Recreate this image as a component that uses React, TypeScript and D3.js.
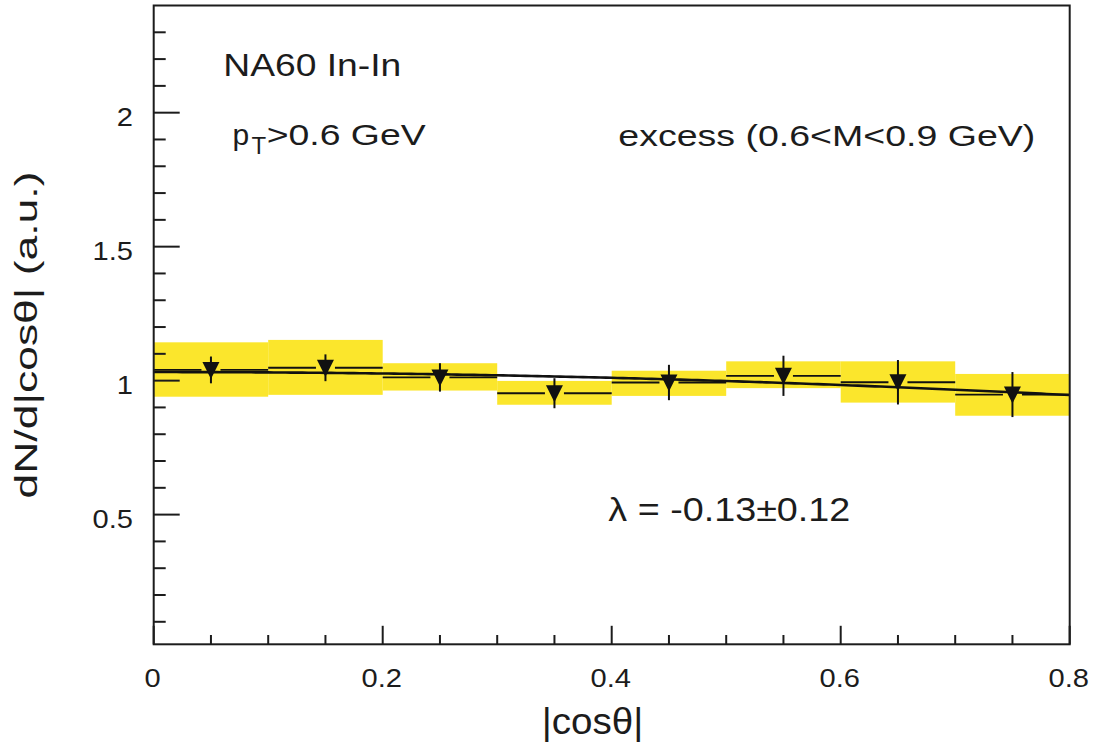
import React from 'react';
import * as d3 from 'd3';

// ---- data ----
const binEdges = [0, 0.1, 0.2, 0.3, 0.4, 0.5, 0.6, 0.7, 0.8];
const binCenters = [0.05, 0.15, 0.25, 0.35, 0.45, 0.55, 0.65, 0.75];
const values = [1.04, 1.048, 1.012, 0.953, 0.993, 1.018, 0.994, 0.948];
const statErrors = [0.05, 0.05, 0.053, 0.056, 0.066, 0.075, 0.083, 0.084];
const systLow = [0.94, 0.947, 0.963, 0.91, 0.943, 0.972, 0.918, 0.869];
const systHigh = [1.143, 1.152, 1.065, 0.999, 1.037, 1.072, 1.072, 1.025];
const fitNorm = 1.032;
const fitLambda = -0.13;
const xMajorTicks = [0, 0.2, 0.4, 0.6, 0.8];
const xTickLabels = ['0', '0.2', '0.4', '0.6', '0.8'];
const yMajorTicks = [0.5, 1, 1.5, 2];
const yTickLabels = ['0.5', '1', '1.5', '2'];

const W = 1117;
const H = 744;
const FONT = "'Liberation Sans', Arial, Helvetica, sans-serif";
const INK = '#1c1c1c';
const YELLOW = '#fbe62c';

export default function App() {
  const x = d3.scaleLinear().domain([0, 0.8]).range([153.7, 1069.7]);
  const y = d3.scaleLinear().domain([0.016, 2.4]).range([644.3, 5.5]);
  const [x0, x1] = x.range();
  const [yB, yT] = y.range();

  const xMinor = d3.range(0, 0.8001, 0.05).filter(v => !xMajorTicks.some(m => Math.abs(m - v) < 1e-6));
  const yMinor = d3.range(0.1, 2.4, 0.1).filter(v => !yMajorTicks.some(m => Math.abs(m - v) < 1e-6));

  const fitXs = d3.range(0, 0.8001, 0.005);
  const fitLine = d3.line<number>()
    .x(v => x(v))
    .y(v => y(fitNorm * (1 + fitLambda * v * v)))(fitXs) || '';

  const mw = 8.5; // marker half width
  const tri = (cx: number, cy: number) => {
    const p = d3.path();
    p.moveTo(cx - mw, cy - 8);
    p.lineTo(cx + mw, cy - 8);
    p.lineTo(cx, cy + 9);
    p.closePath();
    return p.toString();
  };

  return (
    <svg width={W} height={H} style={{ position: 'absolute', left: 0, top: 0, background: '#fff' }}
      fontFamily={FONT}>
      {/* systematic boxes */}
      {binCenters.map((c, i) => (
        <rect key={'s' + i} x={x(binEdges[i])} width={x(binEdges[i + 1]) - x(binEdges[i])}
          y={y(systHigh[i])} height={y(systLow[i]) - y(systHigh[i])} fill={YELLOW} />
      ))}
      {/* fit */}
      <path d={fitLine} fill="none" stroke="#111" strokeWidth={2.6} />
      {/* error bars and markers */}
      {binCenters.map((c, i) => {
        const cx = x(c);
        const cy = y(values[i]);
        return (
          <g key={'p' + i} stroke="#111" strokeWidth={1.8}>
            <line x1={x(binEdges[i])} x2={cx - mw - 1} y1={cy} y2={cy} />
            <line x1={cx + mw + 1} x2={x(binEdges[i + 1])} y1={cy} y2={cy} />
            <line x1={cx} x2={cx} y1={y(values[i] + statErrors[i])} y2={y(values[i] - statErrors[i])} strokeWidth={2} />
            <path d={tri(cx, cy)} fill="#111" stroke="none" />
          </g>
        );
      })}
      {/* frame */}
      <rect x={x0} y={yT} width={x1 - x0} height={yB - yT} fill="none" stroke={INK} strokeWidth={2} />
      {/* ticks */}
      <g stroke={INK} strokeWidth={2}>
        {xMajorTicks.map(v => <line key={'xm' + v} x1={x(v)} x2={x(v)} y1={yB} y2={yB - 18.5} />)}
        {xMinor.map(v => <line key={'xn' + v} x1={x(v)} x2={x(v)} y1={yB} y2={yB - 9.3} />)}
        {yMajorTicks.map(v => <line key={'ym' + v} x1={x0} x2={x0 + 26} y1={y(v)} y2={y(v)} />)}
        {yMinor.map(v => <line key={'yn' + v} x1={x0} x2={x0 + 12} y1={y(v)} y2={y(v)} />)}
      </g>
      {/* tick labels */}
      <g fill={INK} fontSize={26}>
        {xMajorTicks.map((v, i) => (
          <text key={'xl' + v} textAnchor="middle" transform={`translate(${x(v) - 1},687.3) scale(1.12,1)`}>
            {xTickLabels[i]}
          </text>
        ))}
        {yMajorTicks.map((v, i) => (
          <text key={'yl' + v} textAnchor="end" transform={`translate(133,${y(v) + 13}) scale(1.12,1)`}>
            {yTickLabels[i]}
          </text>
        ))}
      </g>
      {/* axis titles */}
      <text x={541.7} y={734} fontSize={37} fill={INK} textLength={101.6} lengthAdjust="spacingAndGlyphs">|cosθ|</text>
      <text transform="translate(37,335) rotate(-90)" textAnchor="middle" fontSize={31} fill={INK}
        textLength={327} lengthAdjust="spacingAndGlyphs">dN/d|cosθ| (a.u.)</text>
      {/* annotations */}
      <text x={223.3} y={76} fontSize={31} fill={INK} textLength={178} lengthAdjust="spacingAndGlyphs">NA60 In-In</text>
      <text x={232.5} y={145} fontSize={30} fill={INK}>p</text>
      <text x={251.5} y={154} fontSize={24} fill={INK}>T</text>
      <text x={266.7} y={145} fontSize={30} fill={INK} textLength={159} lengthAdjust="spacingAndGlyphs">&gt;0.6 GeV</text>
      <text x={618.3} y={146} fontSize={30} fill={INK} textLength={417} lengthAdjust="spacingAndGlyphs">excess (0.6&lt;M&lt;0.9 GeV)</text>
      <text x={608.3} y={520.7} fontSize={34} fill={INK} textLength={242} lengthAdjust="spacingAndGlyphs">λ = -0.13±0.12</text>
    </svg>
  );
}
